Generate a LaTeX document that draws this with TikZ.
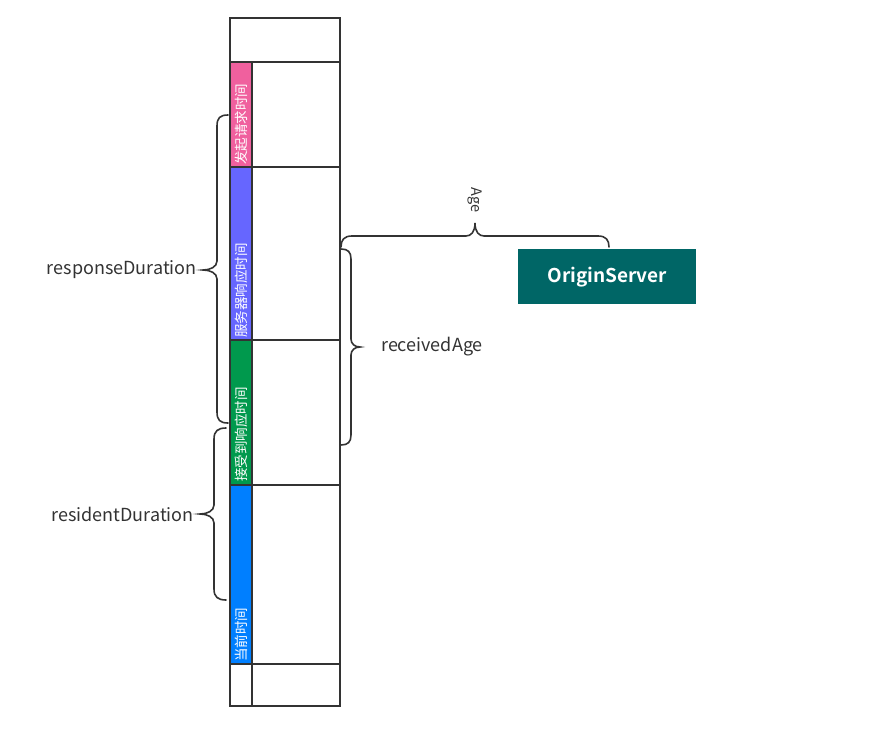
\documentclass[tikz,border=0pt]{standalone}
\usepackage{fontspec}
\setmainfont{Noto Sans CJK SC}[BoldFont={Noto Sans CJK SC Bold}]
\definecolor{linec}{HTML}{333333}
\definecolor{pinkc}{HTML}{F0609E}
\definecolor{purplec}{HTML}{6666FF}
\definecolor{greenc}{HTML}{00994D}
\definecolor{bluec}{HTML}{007FFF}
\definecolor{tealc}{HTML}{006666}
\begin{document}
\begin{tikzpicture}[x=1pt,y=-1pt,
  grid/.style={draw=linec,line width=1.6pt},
  bracec/.style={draw=linec,line width=1.6pt,line cap=round},
  vlabel/.style={rotate=90,anchor=west,text=white,inner sep=0pt,font=\fontsize{13.5}{14}\selectfont},
  lab/.style={text=linec,inner sep=0pt,font=\fontsize{18}{20}\selectfont},
  server/.style={fill=tealc,text=white,inner sep=0pt,minimum width=178pt,minimum height=55pt,anchor=north west,font=\fontsize{19}{20}\selectfont\bfseries}]
\useasboundingbox (0,0) rectangle (895,733);
% coloured segments
\fill[pinkc] (230,62) rectangle (252,167);
\fill[purplec] (230,167) rectangle (252,340);
\fill[greenc] (230,340) rectangle (252,485);
\fill[bluec] (230,485) rectangle (252,664);
% grid
\draw[grid] (230,18) rectangle (340,706);
\draw[grid] (230,62) -- (340,62);
\draw[grid] (230,167) -- (340,167);
\draw[grid] (230,340) -- (340,340);
\draw[grid] (230,485) -- (340,485);
\draw[grid] (230,664) -- (340,664);
\draw[grid] (252,62) -- (252,706);
% vertical labels
\node[vlabel] (t1) at (241,165) {发起请求时间};
\node[vlabel] (t2) at (241,338) {服务器响应时间};
\node[vlabel] (t3) at (241,482) {接受到响应时间};
\node[vlabel] (t4) at (241,662) {当前时间};
% braces
\coordinate (rdA) at (228,115);
\coordinate (rdB) at (228,423);
\draw[bracec] (rdA) .. controls (220,115) and (217,118) .. (217,126) -- (217,261)
  .. controls (217,267) and (210,270) .. (203,270)
  .. controls (210,270) and (217,273) .. (217,279) -- (217,412)
  .. controls (217,420) and (220,423) .. (rdB);
\node[lab,anchor=east] (resp) at (197,270) {responseDuration};
\coordinate (rsA) at (226,428);
\coordinate (rsB) at (226,600);
\draw[bracec] (rsA) .. controls (218,428) and (214,431) .. (214,439) -- (214,505)
  .. controls (214,511) and (207,514) .. (200,514)
  .. controls (207,514) and (214,517) .. (214,523) -- (214,589)
  .. controls (214,597) and (218,600) .. (rsB);
\node[lab,anchor=east] (resid) at (194,514) {residentDuration};
\coordinate (raA) at (341,249);
\coordinate (raB) at (341,445);
\draw[bracec] (raA) .. controls (348,249) and (351,252) .. (351,259) -- (351,339)
  .. controls (351,344) and (355,347) .. (360,347)
  .. controls (355,347) and (351,350) .. (351,355) -- (351,435)
  .. controls (351,442) and (348,445) .. (raB);
\node[lab,anchor=west] (recv) at (381,347) {receivedAge};
\coordinate (agA) at (341,247);
\coordinate (agB) at (609,247);
\draw[bracec] (agA) .. controls (341,240) and (344,236) .. (352,236) -- (466,236)
  .. controls (471,236) and (475,232) .. (475,223)
  .. controls (475,232) and (479,236) .. (484,236) -- (598,236)
  .. controls (606,236) and (609,240) .. (agB);
\node[text=linec,inner sep=0pt,rotate=-90,font=\fontsize{14.5}{15}\selectfont] (age) at (475,200) {Age};
% server
\node[server] (origin) at (518,249) {OriginServer};
\end{tikzpicture}
\end{document}
